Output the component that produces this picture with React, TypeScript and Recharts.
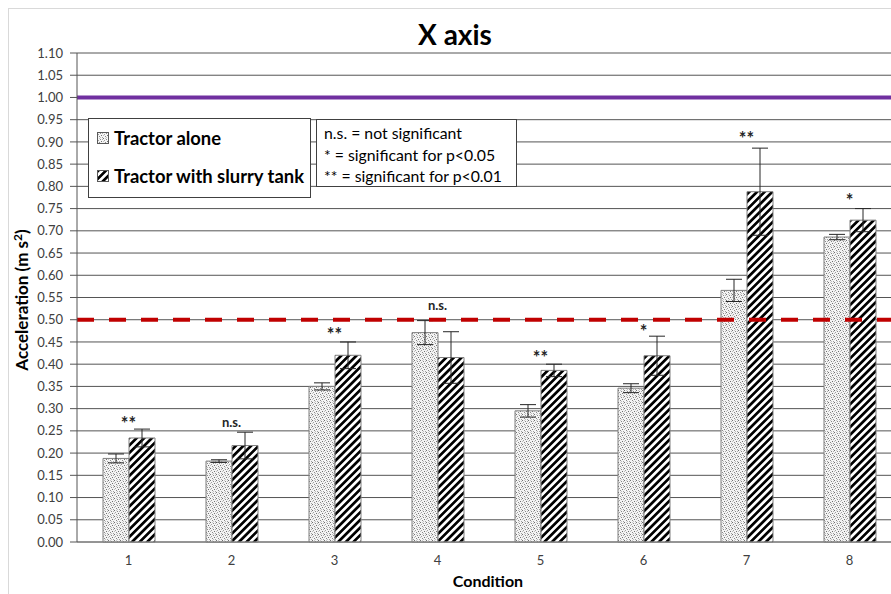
import React from 'react'
import {
  ComposedChart, Bar, XAxis, YAxis, CartesianGrid, ErrorBar,
  ReferenceLine, ReferenceDot
} from 'recharts'

// values
const conditions = ['1', '2', '3', '4', '5', '6', '7', '8']
const tractorAlone = [0.188, 0.182, 0.350, 0.471, 0.295, 0.346, 0.566, 0.686]
const tractorAloneErr = [0.010, 0.003, 0.008, 0.027, 0.014, 0.010, 0.025, 0.006]
const withSlurry = [0.234, 0.217, 0.420, 0.415, 0.386, 0.419, 0.788, 0.724]
const withSlurryErr = [0.020, 0.030, 0.030, 0.058, 0.014, 0.044, 0.098, 0.026]
const sigLabels = ['**', 'n.s.', '**', 'n.s.', '**', '*', '**', '*']
const sigHeights = [0.268, 0.268, 0.468, 0.533, 0.418, 0.475, 0.91, 0.77]
const yTicks = Array.from({ length: 23 }, (_, i) => +(i * 0.05).toFixed(2))

const data = conditions.map((c, i) => ({
  cond: c,
  alone: tractorAlone[i],
  aloneErr: tractorAloneErr[i],
  slurry: withSlurry[i],
  slurryErr: withSlurryErr[i],
}))

const FONT = 'Lato, "Open Sans", sans-serif'
const TXT = '#404040'

// speckle positions for the dotted fill (6x6 tile)
const speckle: [number, number, string][] = [
  [0, 0, '#707070'], [3, 1, '#8a8a8a'], [1, 2, '#a0a0a0'], [4, 3, '#707070'],
  [2, 4, '#8a8a8a'], [5, 5, '#a0a0a0'], [0, 3, '#c0c0c0'], [3, 5, '#c0c0c0'],
  [5, 1, '#b0b0b0'], [2, 0, '#c8c8c8'],
]

function Patterns({ prefix }: { prefix: string }) {
  return (
    <defs>
      <pattern id={`${prefix}dots`} patternUnits="userSpaceOnUse" width={6} height={6}>
        <rect width={6} height={6} fill="#f4f4f4" />
        {speckle.map(([x, y, c], i) => <rect key={i} x={x} y={y} width={1} height={1} fill={c} />)}
      </pattern>
      <pattern id={`${prefix}hatch`} patternUnits="userSpaceOnUse" width={5.4} height={8} patternTransform="rotate(45)">
        <rect width={5.4} height={8} fill="#ffffff" />
        <rect width={2.7} height={8} fill="#000000" />
      </pattern>
    </defs>
  )
}

function LegendIcon({ id, fill }: { id: string; fill: string }) {
  return (
    <svg width={12} height={12} style={{ marginRight: 5, flex: 'none' }}>
      <Patterns prefix={id} />
      <rect x={0.5} y={0.5} width={11} height={11} fill={`url(#${id}${fill})`} stroke="#595959" />
    </svg>
  )
}

export default function App() {
  return (
    <div style={{ position: 'absolute', left: 0, top: 0, width: 891, height: 594, overflow: 'hidden', background: '#fff', fontFamily: FONT }}>
      <div style={{ position: 'absolute', left: 8, top: 8, width: 1000, height: 700, border: '1px solid #d9d9d9' }} />

      <ComposedChart
        width={905}
        height={594}
        data={data}
        margin={{ top: 53, right: 4, left: 0, bottom: 22 }}
        barSize={26}
        barGap={0}
        style={{ position: 'absolute', left: 0, top: 0 }}
      >
        <Patterns prefix="c" />
        <CartesianGrid stroke="#555555" vertical={false} />
        <XAxis
          dataKey="cond"
          height={30}
          tickLine={false}
          tickSize={0}
          tickMargin={14}
          axisLine={{ stroke: '#808080' }}
          tick={{ fontSize: 13, fill: TXT, fontFamily: FONT }}
        />
        <YAxis
          domain={[0, 1.1]}
          ticks={yTicks}
          interval={0}
          width={77}
          tickSize={7}
          tickMargin={7}
          tickFormatter={(v: number) => v.toFixed(2)}
          axisLine={{ stroke: '#555555' }}
          tickLine={{ stroke: '#555555' }}
          tick={{ fontSize: 13, fill: TXT, fontFamily: FONT }}
        />
        <Bar dataKey="alone" fill="url(#cdots)" stroke="#7f7f7f" strokeWidth={1} isAnimationActive={false}>
          <ErrorBar dataKey="aloneErr" width={8} stroke="#262626" strokeWidth={1} />
        </Bar>
        <Bar dataKey="slurry" fill="url(#chatch)" stroke="#7f7f7f" strokeWidth={1} isAnimationActive={false}>
          <ErrorBar dataKey="slurryErr" width={8} stroke="#262626" strokeWidth={1} />
        </Bar>
        <ReferenceLine y={1} stroke="#7030a0" strokeWidth={4} />
        <ReferenceLine y={0.5} stroke="#c00000" strokeWidth={4} strokeDasharray="17 15" />
        {conditions.map((c, i) => (
          <ReferenceDot
            key={c}
            x={c}
            y={sigHeights[i]}
            r={0}
            fill="none"
            stroke="none"
            label={{
              value: sigLabels[i],
              position: 'center',
              fontSize: sigLabels[i] === 'n.s.' ? 13 : 18,
              dy: sigLabels[i] === 'n.s.' ? 0 : 1,
              fontWeight: 700,
              fill: '#262626',
              fontFamily: FONT,
            }}
          />
        ))}
      </ComposedChart>

      {/* title and axis titles */}
      <div style={{ position: 'absolute', left: 355, top: 17, width: 200, textAlign: 'center', fontSize: 28, fontWeight: 700, color: '#000' }}>
        X axis
      </div>
      <div style={{ position: 'absolute', left: 388, top: 571, width: 200, textAlign: 'center', fontSize: 16, fontWeight: 700, color: '#000' }}>
        Condition
      </div>
      <svg style={{ position: 'absolute', left: 8, top: 200 }} width={30} height={200}>
        <text transform="translate(20,100) rotate(-90)" textAnchor="middle" fontSize={17} fontWeight={700} fontFamily={FONT} fill="#000">
          Acceleration (m s<tspan dy={-6} fontSize={12}>2</tspan><tspan dy={6}>)</tspan>
        </text>
      </svg>

      {/* series legend */}
      <div style={{ position: 'absolute', left: 88, top: 118, width: 221, height: 78, background: '#fff', border: '1px solid #404040', fontSize: 18.4, fontWeight: 700, color: '#000' }}>
        <div style={{ position: 'absolute', left: 8, top: 8, display: 'flex', alignItems: 'center', whiteSpace: 'nowrap' }}>
          <LegendIcon id="la" fill="dots" />Tractor alone
        </div>
        <div style={{ position: 'absolute', left: 8, top: 46, display: 'flex', alignItems: 'center', whiteSpace: 'nowrap' }}>
          <LegendIcon id="lb" fill="hatch" />Tractor with slurry tank
        </div>
      </div>

      {/* significance legend */}
      <div style={{ position: 'absolute', left: 316, top: 119, width: 201, height: 68, background: '#fff', border: '1px solid #404040', fontSize: 15.8, color: '#000', lineHeight: '21.5px', padding: '2px 0 0 7px', boxSizing: 'border-box', whiteSpace: 'nowrap' }}>
        <div>n.s. = not significant</div>
        <div>* = significant for p&lt;0.05</div>
        <div>** = significant for p&lt;0.01</div>
      </div>
    </div>
  )
}
